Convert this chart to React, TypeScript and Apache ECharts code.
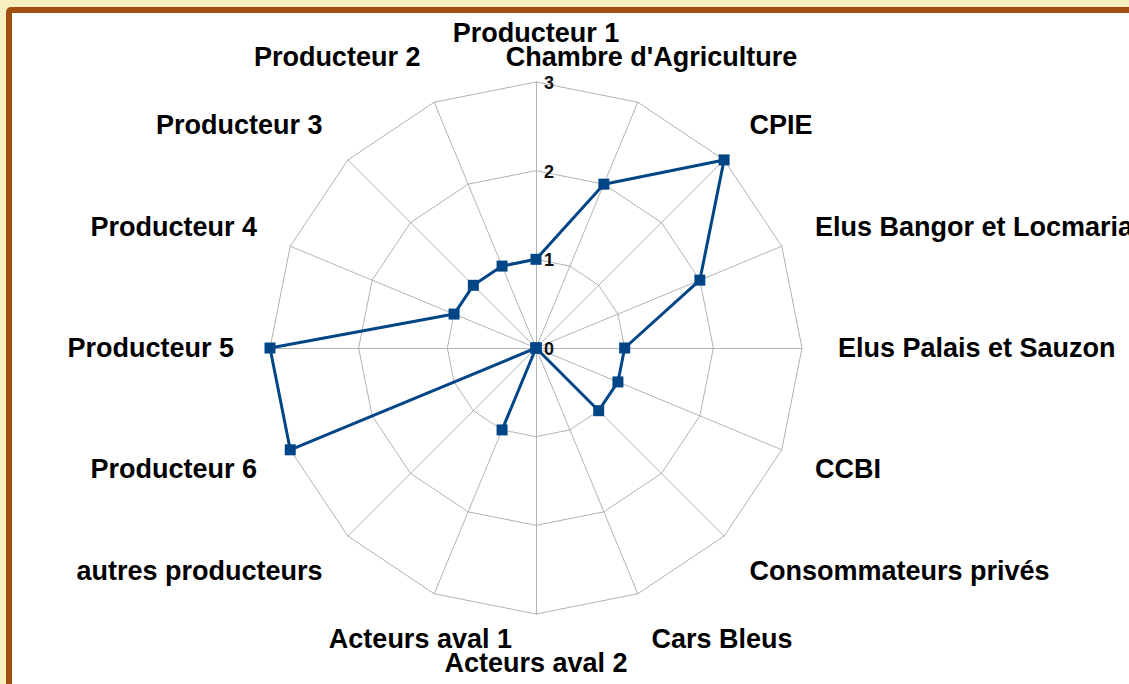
import React, { useEffect, useRef } from "react";
import * as echarts from "echarts";

// Categories in the order ECharts lays radar indicators (counter-clockwise from the top)
const categories = [
  "Producteur 1",
  "Producteur 2",
  "Producteur 3",
  "Producteur 4",
  "Producteur 5",
  "Producteur 6",
  "autres producteurs",
  "Acteurs aval 1",
  "Acteurs aval 2",
  "Cars Bleus",
  "Consommateurs privés",
  "CCBI",
  "Elus Palais et Sauzon",
  "Elus Bangor et Locmaria",
  "CPIE",
  "Chambre d'Agriculture",
];
const values = [1, 1, 1, 1, 3, 3, 0, 1, 0, 0, 1, 1, 1, 2, 3, 2];
const tickLabels = ["0", "1", "2", "3"];
const axisMin = 0;
const axisMax = 3;

const W = 1129;
const H = 684;
const CX = 536;
const CY = 348;
const R = 266;
const LABEL_RX = R + 36;
const LABEL_RY = R + 49;
const FONT = '"Liberation Sans", Arial, sans-serif';

function categoryLabels() {
  const n = categories.length;
  const eps = 1e-6;
  return categories.map((name, i) => {
    const phi = ((360 - (i * 360) / n) % 360 + 360) % 360; // clockwise from top
    const rad = (phi * Math.PI) / 180;
    let align: string;
    if (phi <= 22.5 + eps || phi > 337.5 + eps) align = "center";
    else if (phi <= 157.5 + eps) align = "left";
    else if (phi <= 202.5 + eps) align = "center";
    else align = "right";
    return {
      type: "text",
      z: 100,
      style: {
        text: name,
        x: CX + LABEL_RX * Math.sin(rad),
        y: CY - LABEL_RY * Math.cos(rad),
        align,
        verticalAlign: "middle",
        fontSize: 27,
        fontWeight: "bold",
        fontFamily: FONT,
        fill: "#000000",
      },
    };
  });
}

function tickTexts() {
  return tickLabels.map((t) => {
    const v = Number(t);
    return {
      type: "text",
      z: 100,
      style: {
        text: t,
        x: CX + 8,
        y: CY - (R * (v - axisMin)) / (axisMax - axisMin) + 1,
        align: "left",
        verticalAlign: "middle",
        fontSize: 18,
        fontWeight: "bold",
        fontFamily: FONT,
        fill: "#111111",
      },
    };
  });
}

export default function App() {
  const ref = useRef<HTMLDivElement>(null);

  useEffect(() => {
    if (!ref.current) return;
    const chart = echarts.init(ref.current, undefined, { renderer: "svg" });
    chart.setOption({
      animation: false,
      backgroundColor: "#f7efc2",
      graphic: {
        elements: [
          {
            type: "rect",
            z: -1,
            shape: { x: 9, y: 10, width: 1300, height: 900, r: 2 },
            style: { fill: "#ffffff", stroke: "#a14f10", lineWidth: 6 },
          },
          ...categoryLabels(),
          ...tickTexts(),
        ],
      },
      radar: {
        center: [CX, CY],
        radius: R,
        startAngle: 90,
        shape: "polygon",
        splitNumber: tickLabels.length - 1,
        indicator: categories.map((name) => ({ name, min: axisMin, max: axisMax })),
        axisName: { show: false },
        axisLine: { lineStyle: { color: "#b3b3b3", width: 1 } },
        splitLine: { lineStyle: { color: "#b3b3b3", width: 1 } },
        splitArea: { show: false },
        axisTick: { show: false },
        axisLabel: { show: false },
      },
      series: [
        {
          type: "radar",
          symbol: "rect",
          symbolSize: 11,
          lineStyle: { color: "#004586", width: 3 },
          itemStyle: { color: "#004586" },
          data: [{ value: values, name: "Série" }],
        },
      ],
    });
    return () => chart.dispose();
  }, []);

  return (
    <div
      ref={ref}
      style={{ position: "fixed", left: 0, top: 0, width: W, height: H }}
    />
  );
}
